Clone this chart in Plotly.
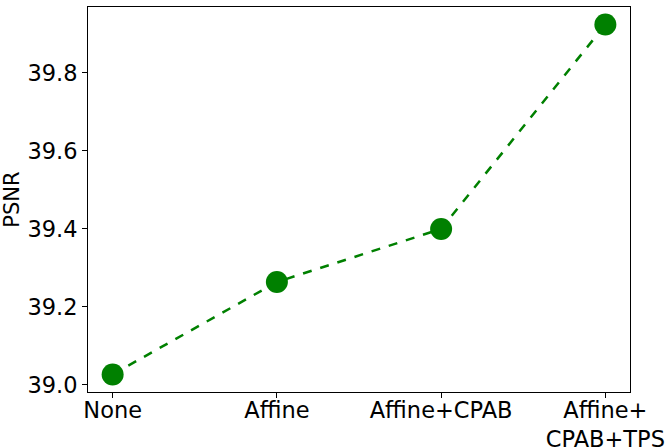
import plotly.graph_objects as go

categories = ["None", "Affine", "Affine+CPAB", "Affine+<br>CPAB+TPS"]
psnr = [39.027, 39.264, 39.400, 39.924]
y_ticks = [39.0, 39.2, 39.4, 39.6, 39.8]

fig = go.Figure()
fig.add_trace(go.Scatter(
    x=list(range(len(categories))), y=psnr,
    mode="lines+markers",
    line=dict(color="#008000", width=2.5, dash="dash"),
    marker=dict(color="#008000", size=22),
    showlegend=False,
))

fig.update_layout(
    width=671, height=447,
    margin=dict(l=88, r=41, t=7, b=55),
    paper_bgcolor="white", plot_bgcolor="white",
    font=dict(family="DejaVu Sans", size=22.5, color="black"),
)
fig.update_xaxes(
    range=[-0.15, 3.15], automargin=False,
    tickmode="array", tickvals=list(range(len(categories))), ticktext=categories,
    ticks="outside", ticklen=5, tickwidth=1, tickcolor="black",
    ticklabelstandoff=-7,
    showline=True, linecolor="black", linewidth=1, mirror=True,
    showgrid=False, zeroline=False,
)
fig.update_yaxes(
    range=[38.982, 39.969], automargin=False,
    tickmode="array", tickvals=y_ticks, ticktext=[f"{v:.1f}" for v in y_ticks],
    ticks="outside", ticklen=5, tickwidth=1, tickcolor="black",
    showline=True, linecolor="black", linewidth=1, mirror=True,
    showgrid=False, zeroline=False,
    title=dict(text="PSNR", standoff=8, font=dict(size=21)),
)

fig.write_html("out.html", config={"displayModeBar": False},
               post_script="document.body.style.margin='0';")
